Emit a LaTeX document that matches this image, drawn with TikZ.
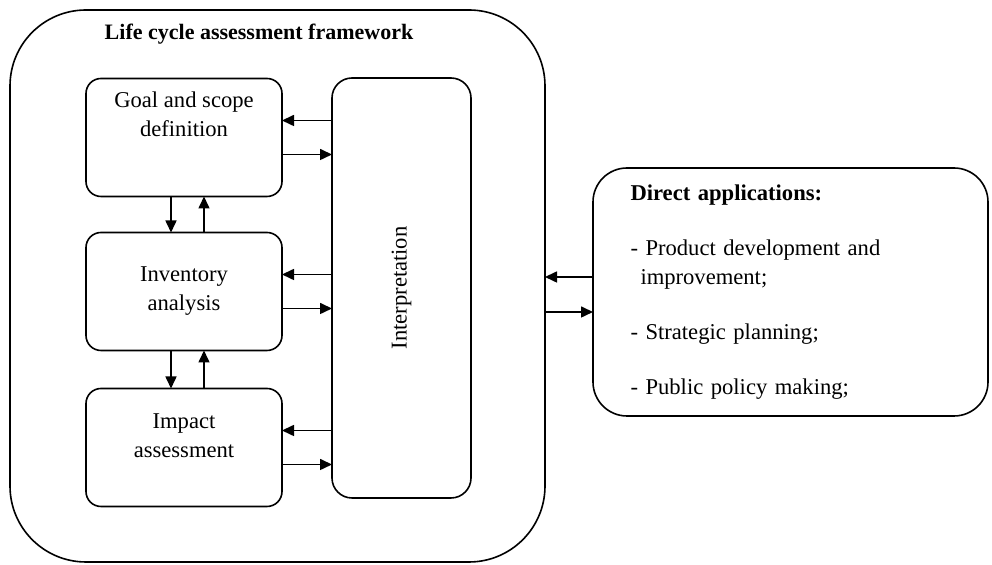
\documentclass[tikz,border=0pt]{standalone}
\usepackage{fontspec}
\setmainfont{Liberation Serif}
\usetikzlibrary{arrows.meta,positioning,calc}

\begin{document}
\begin{tikzpicture}[
      x=0.5pt, y=-0.5pt,
      every node/.style={font=\fontsize{11.3}{14.5}\selectfont, inner sep=0pt, outer sep=0pt},
      frame/.style={rectangle, draw, line width=0.8pt, rounded corners=38pt,
                    minimum width=267.5pt, minimum height=276pt},
      box/.style={rectangle, draw, line width=0.8pt, rounded corners=7.5pt,
                  minimum height=59pt, minimum width=98pt, align=center},
      arr/.style={-{Triangle[length=6pt, width=5.5pt]}, line width=0.8pt}
    ]
      \fill[white] (0,0) rectangle (992,565);
      \useasboundingbox (0,0) rectangle (992,565);

      % framework
      \node[frame] (frame) at (277.5,286) {};
      \node[font=\fontsize{11}{14}\selectfont\bfseries] (title) at (259,34) {Life cycle assessment framework};

      \node[box, text depth=23pt] (goal) at (184,137.5) {Goal and scope\\definition};
      \node[box, below=18pt of goal] (inv) {Inventory\\analysis};
      \node[box, below=19pt of inv, text depth=12pt] (imp) {Impact\\assessment};
      \node[box, rounded corners=10pt, minimum width=69.5pt, minimum height=210pt] (interp) at (401.5,288)
            {\rotatebox{90}{Interpretation}};

      % applications
      \node[box, rounded corners=17pt, minimum width=197.5pt, minimum height=124pt,
            align=left, text width=160pt, inner xsep=18.75pt] (direct) at (790.5,292)
            {\textbf{Direct applications:}\\[13pt]
             - Product development and\\
             \hspace*{5pt}improvement;\\[13pt]
             - Strategic planning;\\[13pt]
             - Public policy making;};

      \foreach \b in {goal,inv,imp} {
        \draw[arr] ($(\b.east -| interp.west)+(0,-17)$) -- ($(\b.east)+(0,-17)$);
        \draw[arr] ($(\b.east)+(0,17)$) -- ($(\b.east -| interp.west)+(0,17)$);
      }
      \foreach \a/\b in {goal/inv, inv/imp} {
        \draw[arr] ($(\a.south)+(-13,0)$) -- ($(\b.north)+(-13,0)$);
        \draw[arr] ($(\b.north)+(20,0)$) -- ($(\a.south)+(20,0)$);
      }

      \draw[arr] ($(direct.west)+(0,-15)$) -- ($(direct.west -| frame.east)+(0,-15)$);
      \draw[arr] ($(direct.west -| frame.east)+(0,20)$) -- ($(direct.west)+(0,20)$);
    \end{tikzpicture}
\end{document}
